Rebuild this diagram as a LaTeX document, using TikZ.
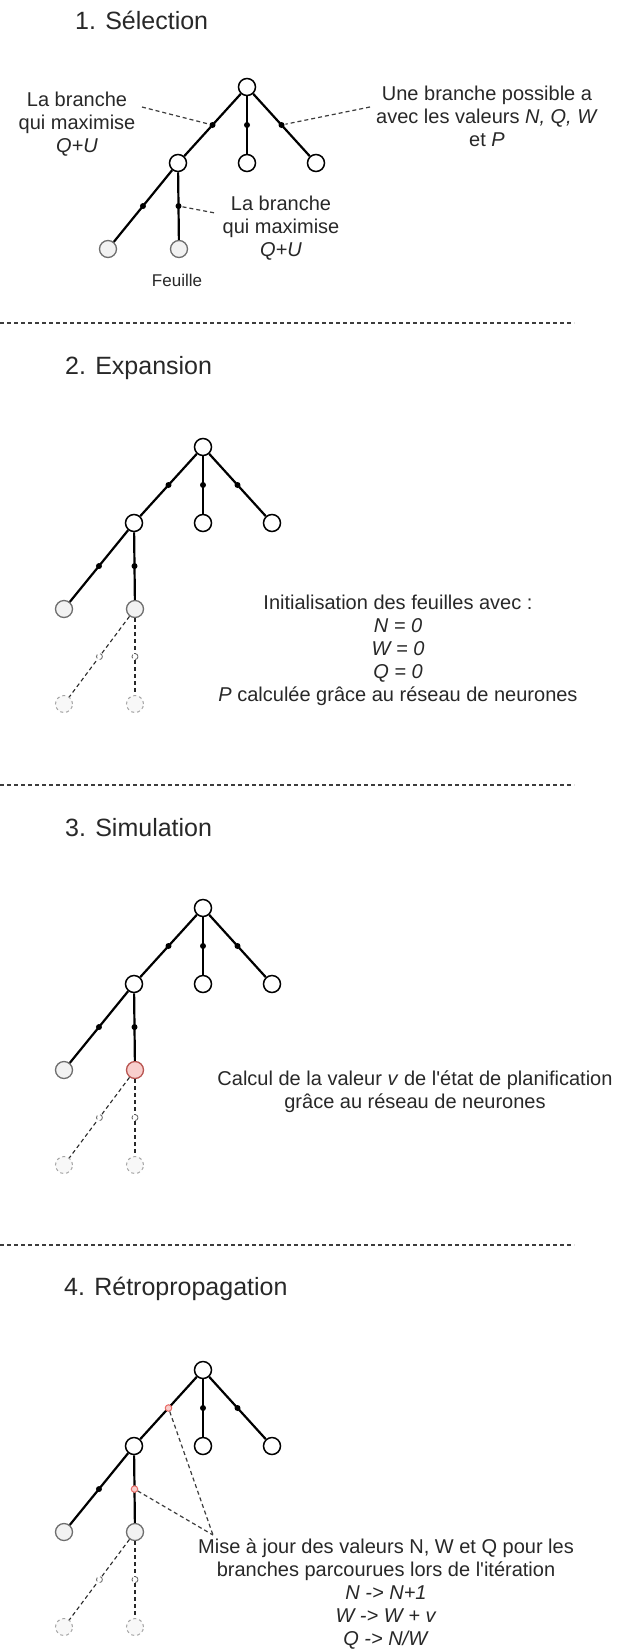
\documentclass[tikz,border=0pt]{standalone}
\usepackage{fontspec}
\setmainfont{Liberation Sans}[Ligatures=TeXOff]
\usetikzlibrary{calc}
\definecolor{txt}{RGB}{40,40,40}
\definecolor{leaffill}{RGB}{242,242,242}
\definecolor{leafdraw}{RGB}{110,110,110}
\definecolor{ghostfill}{RGB}{248,248,248}
\definecolor{ghostdraw}{RGB}{165,165,165}
\definecolor{redfill}{RGB}{248,206,204}
\definecolor{reddraw}{RGB}{184,84,80}
\definecolor{redmark}{RGB}{234,107,102}
\definecolor{sepcol}{RGB}{60,60,60}
\tikzset{
  nd/.style={circle, draw=black, fill=white, line width=1.5pt, minimum size=17pt, inner sep=0pt},
  leaf/.style={circle, draw=leafdraw, fill=leaffill, line width=1.3pt, minimum size=17pt, inner sep=0pt},
  redleaf/.style={circle, draw=reddraw, fill=redfill, line width=1.3pt, minimum size=17pt, inner sep=0pt},
  ghost/.style={circle, draw=ghostdraw, fill=ghostfill, dashed, line width=1pt, minimum size=17pt, inner sep=0pt},
  branch/.style={draw=black, line width=2.2pt},
  gbranch/.style={draw=txt, line width=1.1pt, dash pattern=on 4pt off 3pt},
  mdot/.style={circle, fill=black, minimum size=6pt, inner sep=0pt},
  hollow/.style={circle, draw=leafdraw, fill=white, line width=0.9pt, minimum size=6pt, inner sep=0pt},
  reddot/.style={circle, draw=redmark, fill=redfill, line width=1pt, minimum size=6.5pt, inner sep=0pt},
  conn/.style={draw=sepcol, line width=1.2pt, dash pattern=on 4pt off 3pt},
  sep/.style={draw=sepcol, line width=1.1pt, dash pattern=on 4pt off 3pt},
  lbl/.style={align=center, text=txt, inner sep=0pt, font=\fontsize{20}{23}\selectfont},
  small/.style={align=center, text=txt, inner sep=0pt, font=\fontsize{17}{20}\selectfont},
  ttl/.style={anchor=base west, text=txt, inner sep=0pt, font=\fontsize{25}{30}\selectfont},
}
% #1 prefix, #2 #3 root position, #4 style of middle leaf, #5 marker root-left, #6 marker left-middle leaf
\newcommand{\drawtree}[6]{%
  \begin{scope}[shift={(#2,#3)}]
    \node[nd] (#1r) at (0,0) {};
    \node[nd] (#1a) at (-69,76) {};
    \node[nd] (#1b) at (0,76) {};
    \node[nd] (#1c) at (69,76) {};
    \node[leaf] (#1d) at (-139,162) {};
    \node[#4] (#1e) at (-68,162) {};
    \draw[branch] (#1r) -- node[#5] (#1m1) {} (#1a);
    \draw[branch] (#1r) -- node[mdot] (#1m2) {} (#1b);
    \draw[branch] (#1r) -- node[mdot] (#1m3) {} (#1c);
    \draw[branch] (#1a) -- node[mdot] (#1m4) {} (#1d);
    \draw[branch] (#1a) -- node[#6] (#1m5) {} (#1e);
  \end{scope}}
% #1 prefix, #2 #3 root position
\newcommand{\drawghosts}[3]{%
  \begin{scope}[shift={(#2,#3)}]
    \node[ghost] (#1f) at (-139,257) {};
    \node[ghost] (#1g) at (-68,257) {};
    \draw[gbranch] (#1e) -- node[hollow] (#1m6) {} (#1f);
    \draw[gbranch] (#1e) -- node[hollow] (#1m7) {} (#1g);
  \end{scope}}
\begin{document}
\begin{tikzpicture}[x=1pt, y=-1pt]
  \fill[white] (0,0) rectangle (621,1650);
  \useasboundingbox (0,0) rectangle (621,1650);

  % ---------- 1. Selection ----------
  \node[ttl] (t1) at (75,29) {1. Sélection};
  \drawtree{s1}{247}{87}{leaf}{mdot}{mdot}
  \node[lbl] (s1lab1) at (77,124) {La branche\\qui maximise\\\textit{Q+U}};
  \node[lbl] (s1lab2) at (487,116) {Une branche possible a\\avec les valeurs \textit{N, Q, W}\\et \textit{P}};
  \node[lbl] (s1lab3) at (281,228) {La branche\\qui maximise\\\textit{Q+U}};
  \node[small] (s1feuille) at (177,280) {Feuille};
  \coordinate (c1) at (142,107);
  \coordinate (c2) at (370,107);
  \coordinate (c3) at (215,213);
  \draw[conn] (c1) -- (s1m1);
  \draw[conn] (c2) -- (s1m3);
  \draw[conn] (s1m5) -- (c3);

  \coordinate (sepa1) at (0,323);
  \coordinate (sepb1) at (574,323);
  \draw[sep] (sepa1) -- (sepb1);

  % ---------- 2. Expansion ----------
  \node[ttl] (t2) at (65,374) {2. Expansion};
  \drawtree{s2}{203}{447}{leaf}{mdot}{mdot}
  \drawghosts{s2}{203}{447}
  \node[lbl] (s2lab) at (398,650) {Initialisation des feuilles avec :\\\textit{N = 0}\\\textit{W = 0}\\\textit{Q = 0}\\\textit{P} calculée grâce au réseau de neurones};

  \coordinate (sepa2) at (0,785);
  \coordinate (sepb2) at (574,785);
  \draw[sep] (sepa2) -- (sepb2);

  % ---------- 3. Simulation ----------
  \node[ttl] (t3) at (65,836) {3. Simulation};
  \drawtree{s3}{203}{908}{redleaf}{mdot}{mdot}
  \drawghosts{s3}{203}{908}
  \node[lbl] (s3lab) at (415,1092) {Calcul de la valeur \textit{v} de l'état de planification\\grâce au réseau de neurones};

  \coordinate (sepa3) at (0,1245);
  \coordinate (sepb3) at (574,1245);
  \draw[sep] (sepa3) -- (sepb3);

  % ---------- 4. Retropropagation ----------
  \node[ttl] (t4) at (64,1295) {4. Rétropropagation};
  \drawtree{s4}{203}{1370}{leaf}{reddot}{reddot}
  \drawghosts{s4}{203}{1370}
  \node[lbl] (s4lab) at (386,1594) {Mise à jour des valeurs N, W et Q pour les\\branches parcourues lors de l'itération\\\textit{N -> N+1}\\\textit{W -> W + v}\\\textit{Q -> N/W}};
  \coordinate (c4) at (213,1535);
  \draw[conn] (s4m1) -- (c4);
  \draw[conn] (s4m5) -- (c4);
\end{tikzpicture}
\end{document}
